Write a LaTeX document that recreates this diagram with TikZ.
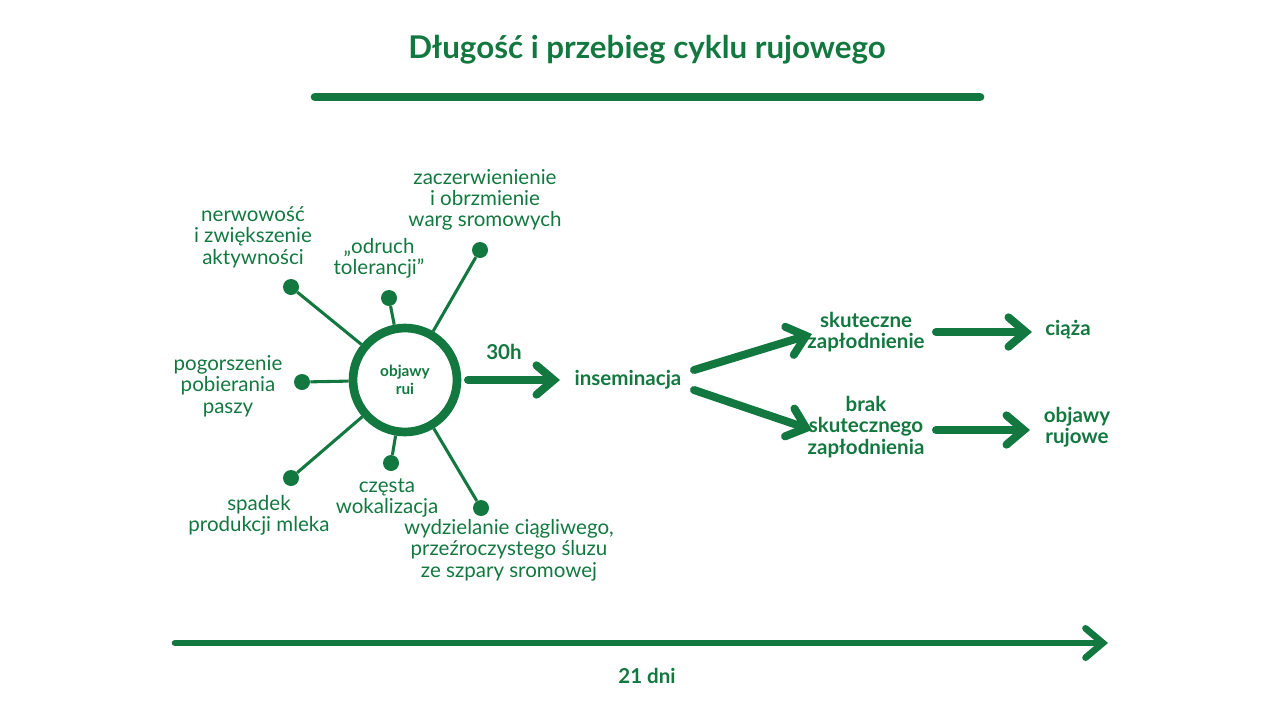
\documentclass[tikz,border=0pt]{standalone}
\usepackage{fontspec}
\setmainfont{Lato}
\usetikzlibrary{arrows.meta}
\definecolor{zielen}{HTML}{13783F}
\tikzset{
  opis/.style={font=\fontsize{15.4}{16}\selectfont, text=zielen, align=center, inner sep=0pt},
  mocny/.style={opis, font=\fontsize{15.4}{16}\selectfont\bfseries},
  kropka/.style={circle, fill=zielen, minimum size=12pt, inner sep=0pt},
  ramie/.style={draw=zielen, line width=2.3pt},
  strzal/.style={draw=zielen, line width=6pt, line cap=round,
    -{Straight Barb[length=13pt, width=22pt, line cap=round]}},
}
\begin{document}
\begin{tikzpicture}[x=0.75pt, y=-0.75pt]
  \useasboundingbox (0,0) rectangle (1280,722);
  \node[mocny, font=\fontsize{23.5}{24}\selectfont\bfseries] (tytul) at (647,50) {Długość i przebieg cyklu rujowego};
  \draw[zielen, line width=6.5pt, line cap=round] (315,97) -- (980,97);

  % srodek
  \node[circle, draw=zielen, line width=6.5pt, minimum size=78pt, inner sep=0pt,
        mocny, font=\fontsize{11.5}{13}\selectfont\bfseries] (objawy) at (405,380) {objawy\\rui};

  \foreach \n/\x/\y in {k1/291/287, k2/389/298, k3/480/250, k4/302/382,
                        k5/291/478, k6/391/463, k7/481/508} {
    \node[kropka] (\n) at (\x,\y) {};
    \draw[ramie] (objawy) -- (\n);
  }

  \node[opis] (t1) at (253,237) {nerwowość\\i zwiększenie\\aktywności};
  \node[opis] (t2) at (379,258) {„odruch\\tolerancji”};
  \node[opis] (t3) at (485,200) {zaczerwienienie\\i obrzmienie\\warg sromowych};
  \node[opis] (t4) at (228,386) {pogorszenie\\pobierania\\paszy};
  \node[opis] (t5) at (259,515) {spadek\\produkcji mleka};
  \node[opis] (t6) at (387,498) {częsta\\wokalizacja};
  \node[opis] (t7) at (509,550) {wydzielanie ciągliwego,\\przeźroczystego śluzu\\ze szpary sromowej};

  % prawa strona
  \node[mocny] (godz) at (504,352) {30h};
  \node[mocny] (insem) at (628,380) {inseminacja};
  \node[mocny] (skut) at (866,332) {skuteczne\\zapłodnienie};
  \node[mocny] (brak) at (866,427) {brak\\skutecznego\\zapłodnienia};
  \node[mocny] (ciaza) at (1068,330) {ciąża};
  \node[mocny] (ruja) at (1077,427) {objawy\\rujowe};
  \draw[strzal] (468,380) -- (560,380);
  \draw[strzal] (694,370) -- (812,334);
  \draw[strzal] (694,390) -- (812,430);
  \draw[strzal] (936,332) -- (1032,332);
  \draw[strzal] (936,430) -- (1030,430);

  % os czasu
  \coordinate (o1) at (175,643);
  \coordinate (o2) at (1108,643);
  \draw[strzal, line width=5pt] (o1) -- (o2);
  \node[mocny] (dni) at (647,676) {21 dni};
\end{tikzpicture}
\end{document}
